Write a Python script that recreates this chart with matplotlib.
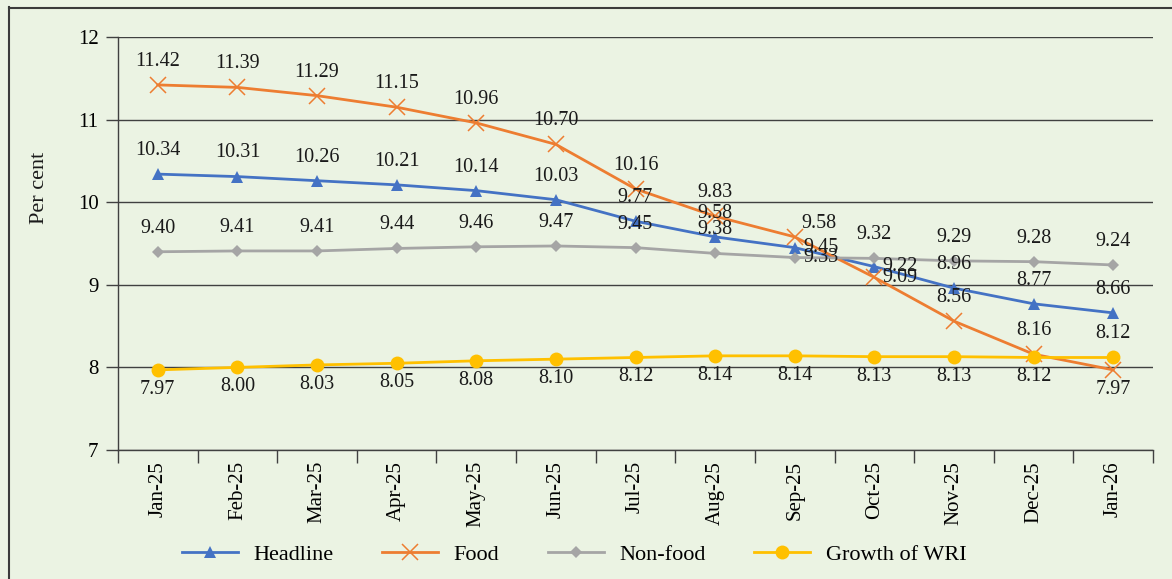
import matplotlib.pyplot as plt
from matplotlib.lines import Line2D

months = ["Jan-25", "Feb-25", "Mar-25", "Apr-25", "May-25", "Jun-25", "Jul-25",
          "Aug-25", "Sep-25", "Oct-25", "Nov-25", "Dec-25", "Jan-26"]
headline = [10.34, 10.31, 10.26, 10.21, 10.14, 10.03, 9.77, 9.58, 9.45, 9.22, 8.96, 8.77, 8.66]
food = [11.42, 11.39, 11.29, 11.15, 10.96, 10.70, 10.16, 9.83, 9.58, 9.09, 8.56, 8.16, 7.97]
non_food = [9.40, 9.41, 9.41, 9.44, 9.46, 9.47, 9.45, 9.38, 9.33, 9.32, 9.29, 9.28, 9.24]
wri = [7.97, 8.00, 8.03, 8.05, 8.08, 8.10, 8.12, 8.14, 8.14, 8.13, 8.13, 8.12, 8.12]

BG = "#EBF3E3"
FONT = "Liberation Serif"
FS = 14.5
plt.rcParams["font.family"] = [FONT, "DejaVu Serif"]

fig = plt.figure(figsize=(11.72, 5.79), dpi=100, facecolor=BG)
ax = fig.add_axes([118 / 1172, 1 - 450 / 579, (1153 - 118) / 1172, (450 - 37) / 579])
ax.set_facecolor(BG)

x = list(range(len(months)))

series = [
    ("Headline", headline, "#4472C4", dict(marker="^", ms=8, mew=0), "above"),
    ("Food", food, "#ED7D31", dict(marker="x", ms=11, mew=1.1), "above"),
    ("Non-food", non_food, "#A5A5A5", dict(marker="D", ms=6, mew=0), "above"),
    ("Growth of WRI", wri, "#FFC000", dict(marker="o", ms=10, mew=0), "below"),
]

# label placement exceptions (series, index) -> position
special = {
    ("Headline", 8): "right", ("Headline", 9): "right",
    ("Food", 8): "right_up", ("Food", 9): "right", ("Food", 12): "below",
    ("Non-food", 8): "right",
    ("Growth of WRI", 12): "above",
}
offsets = {
    "above": ((0, 17), "center", "center"),
    "below": ((0, -14), "center", "center"),
    "right": ((6, 0), "left", "center"),
    "right_up": ((5, 10), "left", "center"),
}

handles = []
for name, vals, color, mk, default_pos in series:
    ax.plot(x, vals, color=color, lw=2, zorder=3, **mk)
    handles.append(Line2D([], [], color=color, lw=2, **mk))
    for i, v in enumerate(vals):
        pos = special.get((name, i), default_pos)
        off, ha, va = offsets[pos]
        ax.annotate(f"{v:.2f}", (i, v), xytext=off, textcoords="offset points",
                    ha=ha, va=va, fontsize=FS, color="#1a1a1a", zorder=4)

ax.set_xlim(-0.5, 12.5)
ax.set_ylim(7, 12)
ax.set_yticks([7, 8, 9, 10, 11, 12])
ax.grid(axis="y", color="#404040", lw=1)
ax.set_axisbelow(True)

ax.set_xticks(x)
ax.set_xticklabels(months, rotation=90, fontsize=FS + 0.5)
ax.set_xticks([i - 0.5 for i in range(len(months) + 1)], minor=True)
ax.tick_params(axis="x", which="major", length=0, pad=8)
ax.tick_params(axis="x", which="minor", length=9, width=1, color="#404040")
ax.tick_params(axis="y", length=9, width=1, color="#404040", labelsize=FS + 0.5, pad=5)

for s in ["top", "right"]:
    ax.spines[s].set_visible(False)
for s in ["left", "bottom"]:
    ax.spines[s].set_color("#404040")
    ax.spines[s].set_linewidth(1)

fig.text(40 / 1172, 1 - 188 / 579, "Per cent", rotation=90, ha="center", va="center",
         fontsize=FS + 1.5, color="#1a1a1a")

fig.legend(handles, [s[0] for s in series], loc="center", bbox_to_anchor=(0.49, 1 - 555 / 579),
           ncol=4, frameon=False, fontsize=FS + 1.5, handlelength=2.5, handletextpad=0.7,
           columnspacing=2.2)

# outer frame: top and left edges
fig.add_artist(Line2D([9 / 1172, 1], [1 - 7.5 / 579, 1 - 7.5 / 579], color="#3a3a3a", lw=1.5,
                      transform=fig.transFigure))
fig.add_artist(Line2D([9.5 / 1172, 9.5 / 1172], [0, 1 - 7 / 579], color="#3a3a3a", lw=1.5,
                      transform=fig.transFigure))

fig.savefig("out.png", dpi=100, facecolor=BG)
